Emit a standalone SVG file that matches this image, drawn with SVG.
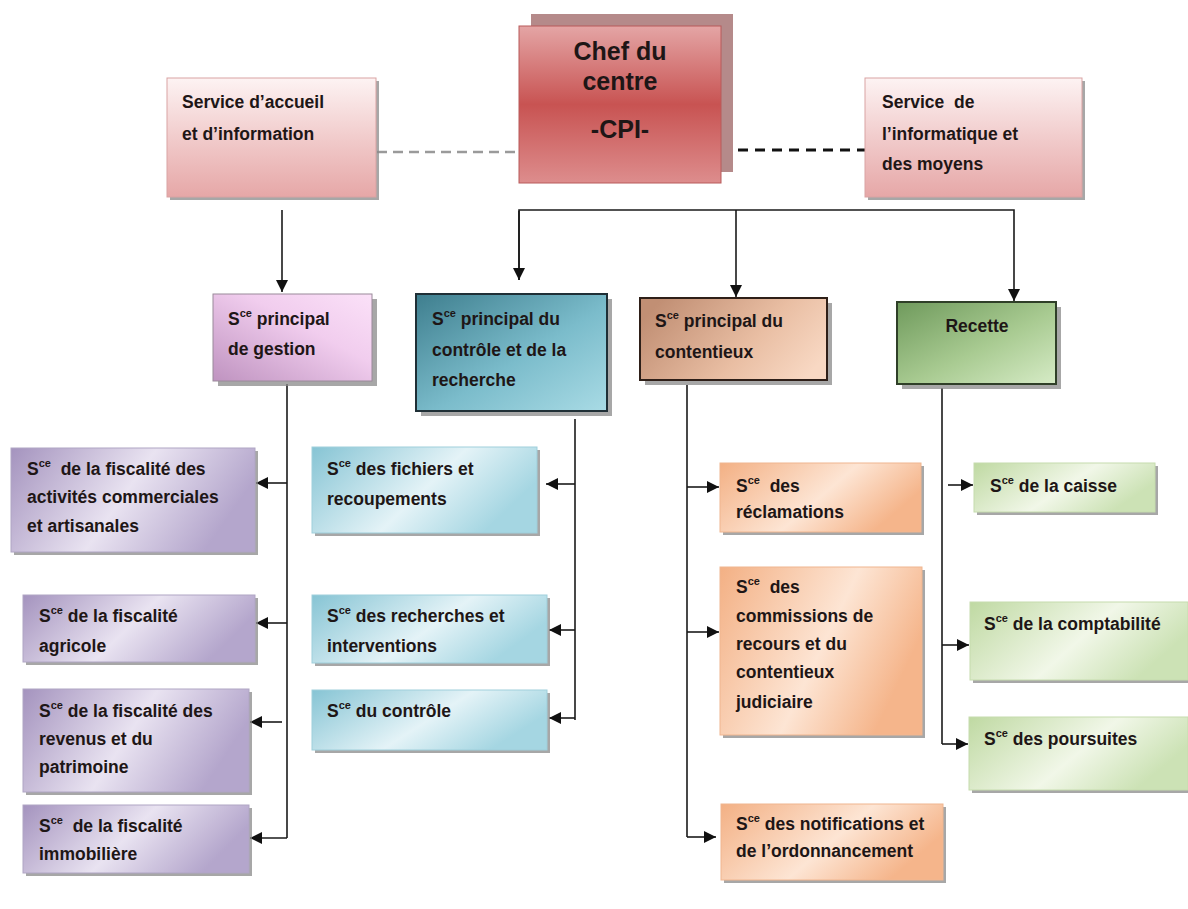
<svg xmlns="http://www.w3.org/2000/svg" width="1188" height="909" viewBox="0 0 1188 909">
<style>
text{font-family:"Liberation Sans",Arial,sans-serif;font-weight:bold;font-size:17.5px;fill:#1e1616}
.sup{font-size:11px}
.big{font-size:25px}
.sh{fill:#8a8a8a;opacity:0.75}
.conn{fill:none;stroke:#1a1a1a;stroke-width:1.6}
</style>
<defs>
<marker id="ar" markerUnits="userSpaceOnUse" markerWidth="14" markerHeight="12" refX="12" refY="6" orient="auto">
<path d="M0,0 L12,6 L0,12 Z" fill="#111"/>
</marker>
<linearGradient id="gChef" x1="0" y1="0" x2="0" y2="1">
<stop offset="0" stop-color="#e4a5a5"/><stop offset="0.5" stop-color="#c85352"/><stop offset="1" stop-color="#dd8d8d"/>
</linearGradient>
<linearGradient id="gPink" x1="0" y1="0" x2="0" y2="1">
<stop offset="0" stop-color="#fdf3f3"/><stop offset="0.55" stop-color="#f0c8c8"/><stop offset="1" stop-color="#e6a7a7"/>
</linearGradient>
<linearGradient id="gGest" x1="0" y1="1" x2="1" y2="0">
<stop offset="0" stop-color="#bf93c0"/><stop offset="0.6" stop-color="#f1cdee"/><stop offset="1" stop-color="#fbe1f8"/>
</linearGradient>
<linearGradient id="gCtrl" x1="0" y1="0" x2="1" y2="1">
<stop offset="0" stop-color="#3e7e8e"/><stop offset="0.55" stop-color="#7bbccb"/><stop offset="1" stop-color="#a9dbe5"/>
</linearGradient>
<linearGradient id="gCont" x1="0" y1="0.3" x2="1" y2="0.7">
<stop offset="0" stop-color="#c18f74"/><stop offset="0.6" stop-color="#e9bea3"/><stop offset="1" stop-color="#f8d8c3"/>
</linearGradient>
<linearGradient id="gRec" x1="0" y1="0" x2="1" y2="1">
<stop offset="0" stop-color="#6f9a5c"/><stop offset="0.55" stop-color="#a9cb92"/><stop offset="1" stop-color="#d6ebc6"/>
</linearGradient>
<linearGradient id="gFisc" x1="0" y1="0" x2="1" y2="0.3">
<stop offset="0" stop-color="#a493be"/><stop offset="0.55" stop-color="#e9e3f1"/><stop offset="1" stop-color="#b4a6cc"/>
</linearGradient>
<linearGradient id="gBlue" x1="0" y1="0" x2="1" y2="0.4">
<stop offset="0" stop-color="#86c4d4"/><stop offset="0.6" stop-color="#e4f3f7"/><stop offset="1" stop-color="#a5d6e2"/>
</linearGradient>
<linearGradient id="gOr" x1="0" y1="0" x2="1" y2="0.4">
<stop offset="0" stop-color="#f3b084"/><stop offset="0.6" stop-color="#fde5d4"/><stop offset="1" stop-color="#f5b58b"/>
</linearGradient>
<linearGradient id="gGr" x1="0" y1="0" x2="1" y2="0.4">
<stop offset="0" stop-color="#bfd9a2"/><stop offset="0.6" stop-color="#f1f7e8"/><stop offset="1" stop-color="#cce2b5"/>
</linearGradient>
</defs>

<g id="connectors">
<line x1="377" y1="152" x2="519" y2="152" stroke="#9a9a9a" stroke-width="2.5" stroke-dasharray="10 6"/>
<line x1="721" y1="150" x2="865" y2="150" stroke="#111" stroke-width="3" stroke-dasharray="10 7"/>
<path class="conn" d="M282,210 V292" marker-end="url(#ar)"/>
<path class="conn" d="M519,280 V210 H1014 V301" marker-end="url(#ar)"/>
<path class="conn" d="M519,211 V280" marker-end="url(#ar)"/>
<path class="conn" d="M736,210 V297" marker-end="url(#ar)"/>
<path class="conn" d="M287,384 V838"/>
<path class="conn" d="M287,483 H256" marker-end="url(#ar)"/>
<path class="conn" d="M287,623 H256" marker-end="url(#ar)"/>
<path class="conn" d="M282,722 H250" marker-end="url(#ar)"/>
<path class="conn" d="M287,838 H250" marker-end="url(#ar)"/>
<path class="conn" d="M575,419 V720"/>
<path class="conn" d="M575,484 H546" marker-end="url(#ar)"/>
<path class="conn" d="M575,630 H549" marker-end="url(#ar)"/>
<path class="conn" d="M575,718 H549" marker-end="url(#ar)"/>
<path class="conn" d="M687,385 V837"/>
<path class="conn" d="M687,487 H719" marker-end="url(#ar)"/>
<path class="conn" d="M687,632 H719" marker-end="url(#ar)"/>
<path class="conn" d="M687,837 H716" marker-end="url(#ar)"/>
<path class="conn" d="M942,388 V744"/>
<path class="conn" d="M948,485 H973" marker-end="url(#ar)"/>
<path class="conn" d="M942,645 H969" marker-end="url(#ar)"/>
<path class="conn" d="M942,744 H968" marker-end="url(#ar)"/>
</g>

<g id="chef">
<rect x="531" y="14" width="202" height="158" fill="#b58a8a"/>
<rect x="519" y="26" width="202" height="157" fill="url(#gChef)" stroke="#b85a5a" stroke-width="1"/>
<text class="big" x="620" y="60" text-anchor="middle">Chef du</text>
<text class="big" x="620" y="90" text-anchor="middle">centre</text>
<text class="big" x="620" y="138" text-anchor="middle">-CPI-</text>
</g>

<g id="accueil">
<rect class="sh" x="170" y="81" width="209" height="119"/>
<rect x="167" y="78" width="209" height="119" fill="url(#gPink)" stroke="#d9a3a3" stroke-width="1"/>
<text x="182" y="108">Service d’accueil</text>
<text x="182" y="140">et d’information</text>
</g>

<g id="informatique">
<rect class="sh" x="868" y="81" width="217" height="119"/>
<rect x="865" y="78" width="217" height="119" fill="url(#gPink)" stroke="#d9a3a3" stroke-width="1"/>
<text x="882" y="108" xml:space="preserve">Service  de</text>
<text x="882" y="140">l’informatique et</text>
<text x="882" y="170">des moyens</text>
</g>

<g id="gestion">
<rect class="sh" x="218" y="299" width="159" height="87"/>
<rect x="213" y="294" width="159" height="87" fill="url(#gGest)" stroke="#9a8a9a" stroke-width="1"/>
<text x="228" y="325">S<tspan class="sup" dy="-8">ce</tspan><tspan dy="8"> principal</tspan></text>
<text x="228" y="355">de gestion</text>
</g>

<g id="controle">
<rect class="sh" x="421" y="299" width="191" height="117"/>
<rect x="416" y="294" width="191" height="117" fill="url(#gCtrl)" stroke="#1f2f36" stroke-width="2"/>
<text x="432" y="325">S<tspan class="sup" dy="-8">ce</tspan><tspan dy="8"> principal du</tspan></text>
<text x="432" y="356">contrôle et de la</text>
<text x="432" y="386">recherche</text>
</g>

<g id="contentieux">
<rect class="sh" x="645" y="303" width="187" height="82"/>
<rect x="640" y="298" width="187" height="82" fill="url(#gCont)" stroke="#2e1f18" stroke-width="2"/>
<text x="655" y="327">S<tspan class="sup" dy="-8">ce</tspan><tspan dy="8"> principal du</tspan></text>
<text x="655" y="358">contentieux</text>
</g>

<g id="recette">
<rect class="sh" x="902" y="307" width="159" height="82"/>
<rect x="897" y="302" width="159" height="82" fill="url(#gRec)" stroke="#2f3f28" stroke-width="2"/>
<text x="977" y="332" text-anchor="middle">Recette</text>
</g>

<g id="fisc-commerciales">
<rect class="sh" x="14" y="451" width="244" height="104"/>
<rect x="11" y="448" width="244" height="104" fill="url(#gFisc)" stroke="#b0a6c4" stroke-width="1"/>
<text x="27" y="475" xml:space="preserve">S<tspan class="sup" dy="-8">ce</tspan><tspan dy="8">  de la fiscalité des</tspan></text>
<text x="27" y="503">activités commerciales</text>
<text x="27" y="532">et artisanales</text>
</g>

<g id="fisc-agricole">
<rect class="sh" x="26" y="598" width="232" height="67"/>
<rect x="23" y="595" width="232" height="67" fill="url(#gFisc)" stroke="#b0a6c4" stroke-width="1"/>
<text x="39" y="622">S<tspan class="sup" dy="-8">ce</tspan><tspan dy="8"> de la fiscalité</tspan></text>
<text x="39" y="652">agricole</text>
</g>

<g id="fisc-revenus">
<rect class="sh" x="26" y="692" width="226" height="103"/>
<rect x="23" y="689" width="226" height="103" fill="url(#gFisc)" stroke="#b0a6c4" stroke-width="1"/>
<text x="39" y="717">S<tspan class="sup" dy="-8">ce</tspan><tspan dy="8"> de la fiscalité des</tspan></text>
<text x="39" y="745">revenus et du</text>
<text x="39" y="773">patrimoine</text>
</g>

<g id="fisc-immobiliere">
<rect class="sh" x="26" y="808" width="226" height="68"/>
<rect x="23" y="805" width="226" height="68" fill="url(#gFisc)" stroke="#b0a6c4" stroke-width="1"/>
<text x="39" y="832" xml:space="preserve">S<tspan class="sup" dy="-8">ce</tspan><tspan dy="8">  de la fiscalité</tspan></text>
<text x="39" y="860">immobilière</text>
</g>

<g id="fichiers">
<rect class="sh" x="315" y="450" width="225" height="86"/>
<rect x="312" y="447" width="225" height="86" fill="url(#gBlue)" stroke="#9fcfdb" stroke-width="1"/>
<text x="327" y="475">S<tspan class="sup" dy="-8">ce</tspan><tspan dy="8"> des fichiers et</tspan></text>
<text x="327" y="505">recoupements</text>
</g>

<g id="recherches">
<rect class="sh" x="315" y="598" width="235" height="68"/>
<rect x="312" y="595" width="235" height="68" fill="url(#gBlue)" stroke="#9fcfdb" stroke-width="1"/>
<text x="327" y="622">S<tspan class="sup" dy="-8">ce</tspan><tspan dy="8"> des recherches et</tspan></text>
<text x="327" y="652">interventions</text>
</g>

<g id="du-controle">
<rect class="sh" x="315" y="693" width="235" height="60"/>
<rect x="312" y="690" width="235" height="60" fill="url(#gBlue)" stroke="#9fcfdb" stroke-width="1"/>
<text x="327" y="717">S<tspan class="sup" dy="-8">ce</tspan><tspan dy="8"> du contrôle</tspan></text>
</g>

<g id="reclamations">
<rect class="sh" x="723" y="466" width="201" height="69"/>
<rect x="720" y="463" width="201" height="69" fill="url(#gOr)" stroke="#f0b690" stroke-width="1"/>
<text x="736" y="492" xml:space="preserve">S<tspan class="sup" dy="-8">ce</tspan><tspan dy="8">  des</tspan></text>
<text x="736" y="518">réclamations</text>
</g>

<g id="commissions">
<rect class="sh" x="723" y="570" width="202" height="168"/>
<rect x="720" y="567" width="202" height="168" fill="url(#gOr)" stroke="#f0b690" stroke-width="1"/>
<text x="736" y="593" xml:space="preserve">S<tspan class="sup" dy="-8">ce</tspan><tspan dy="8">  des</tspan></text>
<text x="736" y="622">commissions de</text>
<text x="736" y="650">recours et du</text>
<text x="736" y="678">contentieux</text>
<text x="736" y="708">judiciaire</text>
</g>

<g id="notifications">
<rect class="sh" x="724" y="807" width="222" height="76"/>
<rect x="721" y="804" width="222" height="76" fill="url(#gOr)" stroke="#f0b690" stroke-width="1"/>
<text x="736" y="830">S<tspan class="sup" dy="-8">ce</tspan><tspan dy="8"> des notifications et</tspan></text>
<text x="736" y="857">de l’ordonnancement</text>
</g>

<g id="caisse">
<rect class="sh" x="977" y="466" width="181" height="49"/>
<rect x="974" y="463" width="181" height="49" fill="url(#gGr)" stroke="#c6dcae" stroke-width="1"/>
<text x="990" y="492">S<tspan class="sup" dy="-8">ce</tspan><tspan dy="8"> de la caisse</tspan></text>
</g>

<g id="comptabilite">
<rect class="sh" x="973" y="605" width="218" height="78"/>
<rect x="970" y="602" width="218" height="78" fill="url(#gGr)" stroke="#c6dcae" stroke-width="1"/>
<text x="984" y="630">S<tspan class="sup" dy="-8">ce</tspan><tspan dy="8"> de la comptabilité</tspan></text>
</g>

<g id="poursuites">
<rect class="sh" x="972" y="720" width="219" height="73"/>
<rect x="969" y="717" width="219" height="73" fill="url(#gGr)" stroke="#c6dcae" stroke-width="1"/>
<text x="984" y="745">S<tspan class="sup" dy="-8">ce</tspan><tspan dy="8"> des poursuites</tspan></text>
</g>
</svg>
